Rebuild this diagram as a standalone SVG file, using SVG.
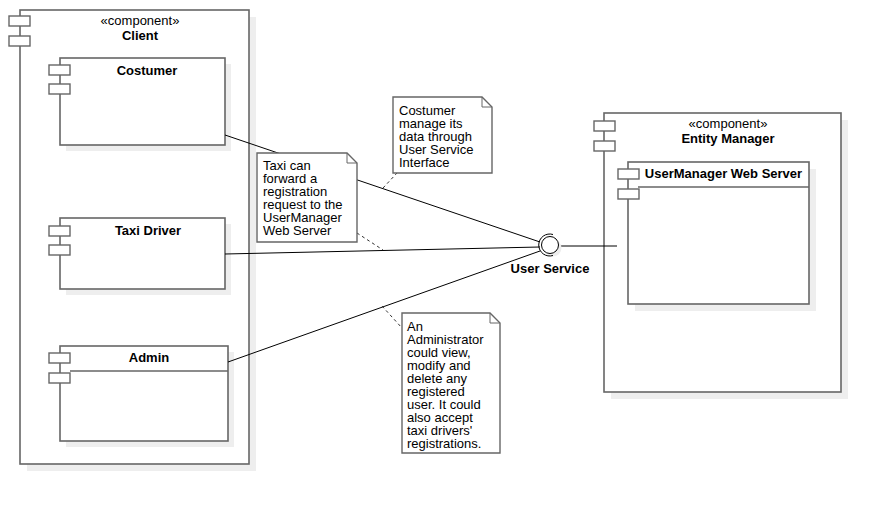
<svg xmlns="http://www.w3.org/2000/svg" width="881" height="505" viewBox="0 0 881 505">
<style>
.box{fill:#fff;stroke:#666;stroke-width:1.6}
.shadow{fill:#eee;stroke:none}
.ic{fill:#fff;stroke:#666;stroke-width:1.4}
.t{font-family:"Liberation Sans",Arial,sans-serif;font-size:13px;fill:#000}
.b{font-weight:bold;text-anchor:middle}
.m{text-anchor:middle}
.c{stroke:#000;stroke-width:1;fill:none}
.d{stroke:#333;stroke-width:1;fill:none;stroke-dasharray:3,3}
.note{fill:#fff;stroke:#666;stroke-width:1.4}
</style>
<rect width="881" height="505" fill="#fff"/>
<g id="client">
<rect class="shadow" x="27" y="17" width="229" height="454"/>
<rect class="box" x="20" y="10" width="229" height="454"/>
<rect class="ic" x="9" y="16" width="21" height="10"/>
<rect class="ic" x="9" y="36" width="21" height="10"/>
<text class="t m" x="140" y="25">«component»</text>
<text class="t b" x="140" y="40">Client</text>
</g>
<g id="costumer">
<rect class="shadow" x="66" y="64" width="165" height="87"/>
<rect class="box" x="60" y="58" width="165" height="87"/>
<rect class="ic" x="49" y="65" width="21" height="10"/>
<rect class="ic" x="49" y="84" width="21" height="10"/>
<text class="t b" x="147" y="75">Costumer</text>
</g>
<g id="taxidriver">
<rect class="shadow" x="66" y="224" width="165" height="71"/>
<rect class="box" x="60" y="218" width="165" height="71"/>
<rect class="ic" x="49" y="226" width="21" height="10"/>
<rect class="ic" x="49" y="245" width="21" height="10"/>
<text class="t b" x="148" y="235">Taxi Driver</text>
</g>
<g id="admin">
<rect class="shadow" x="66" y="352" width="168" height="95"/>
<rect class="box" x="60" y="346" width="168" height="95"/>
<line x1="70" y1="371" x2="228" y2="371" stroke="#666" stroke-width="1.4"/>
<rect class="ic" x="49" y="353" width="21" height="10"/>
<rect class="ic" x="49" y="373" width="21" height="10"/>
<text class="t b" x="149" y="362">Admin</text>
</g>
<g id="entitymanager">
<rect class="shadow" x="611" y="120" width="237" height="279"/>
<rect class="box" x="604" y="113" width="237" height="279"/>
<rect class="ic" x="594" y="121" width="21" height="10"/>
<rect class="ic" x="594" y="141" width="21" height="10"/>
<text class="t m" x="728" y="128">«component»</text>
<text class="t b" x="728" y="143">Entity Manager</text>
</g>
<g id="usermanager">
<rect class="shadow" x="635" y="169" width="181" height="142"/>
<rect class="box" x="628" y="162" width="181" height="142"/>
<line x1="638" y1="187" x2="809" y2="187" stroke="#666" stroke-width="1.4"/>
<rect class="ic" x="618" y="169" width="21" height="10"/>
<rect class="ic" x="618" y="189" width="21" height="10"/>
<text class="t b" x="723.5" y="178">UserManager Web Server</text>
</g>
<g id="connectors">
<line class="c" x1="225" y1="135" x2="540" y2="242"/>
<line class="c" x1="225" y1="254" x2="540" y2="247"/>
<line class="c" x1="228" y1="362" x2="540" y2="251"/>
<line class="c" x1="558" y1="246" x2="617" y2="246"/>
<line class="d" x1="383" y1="188" x2="397" y2="173"/>
<line class="d" x1="357" y1="233" x2="383" y2="250"/>
<line class="d" x1="382" y1="306" x2="402" y2="328"/>
</g>
<g id="userservice">
<circle cx="553" cy="248" r="8.5" fill="#eee"/>
<circle cx="550" cy="245" r="8.5" fill="#fff" stroke="#000" stroke-width="1"/>
<path d="M553,234.5 A11,11 0 1 0 553,255.5" fill="none" stroke="#000" stroke-width="1"/>
<text class="t b" x="550" y="273">User Service</text>
</g>
<g id="note1">
<path class="note" d="M393,97 H482 L492,107 V173 H393 Z"/>
<path d="M482,97 V107 H492" fill="none" stroke="#666" stroke-width="1"/>
<text class="t" x="399" y="115">Costumer</text>
<text class="t" x="399" y="128">manage its</text>
<text class="t" x="399" y="141">data through</text>
<text class="t" x="399" y="154">User Service</text>
<text class="t" x="399" y="167">Interface</text>
</g>
<g id="note2">
<path class="note" d="M257,153 H347 L357,163 V242 H257 Z"/>
<path d="M347,153 V163 H357" fill="none" stroke="#666" stroke-width="1"/>
<text class="t" x="263" y="170">Taxi can</text>
<text class="t" x="263" y="183">forward a</text>
<text class="t" x="263" y="196">registration</text>
<text class="t" x="263" y="209">request to the</text>
<text class="t" x="263" y="222">UserManager</text>
<text class="t" x="263" y="235">Web Server</text>
</g>
<g id="note3">
<path class="note" d="M402,313 H490 L500,323 V453 H402 Z"/>
<path d="M490,313 V323 H500" fill="none" stroke="#666" stroke-width="1"/>
<text class="t" x="407" y="331">An</text>
<text class="t" x="407" y="344">Administrator</text>
<text class="t" x="407" y="357">could view,</text>
<text class="t" x="407" y="370">modify and</text>
<text class="t" x="407" y="383">delete any</text>
<text class="t" x="407" y="396">registered</text>
<text class="t" x="407" y="409">user. It could</text>
<text class="t" x="407" y="422">also accept</text>
<text class="t" x="407" y="435">taxi drivers'</text>
<text class="t" x="407" y="448">registrations.</text>
</g>
</svg>
